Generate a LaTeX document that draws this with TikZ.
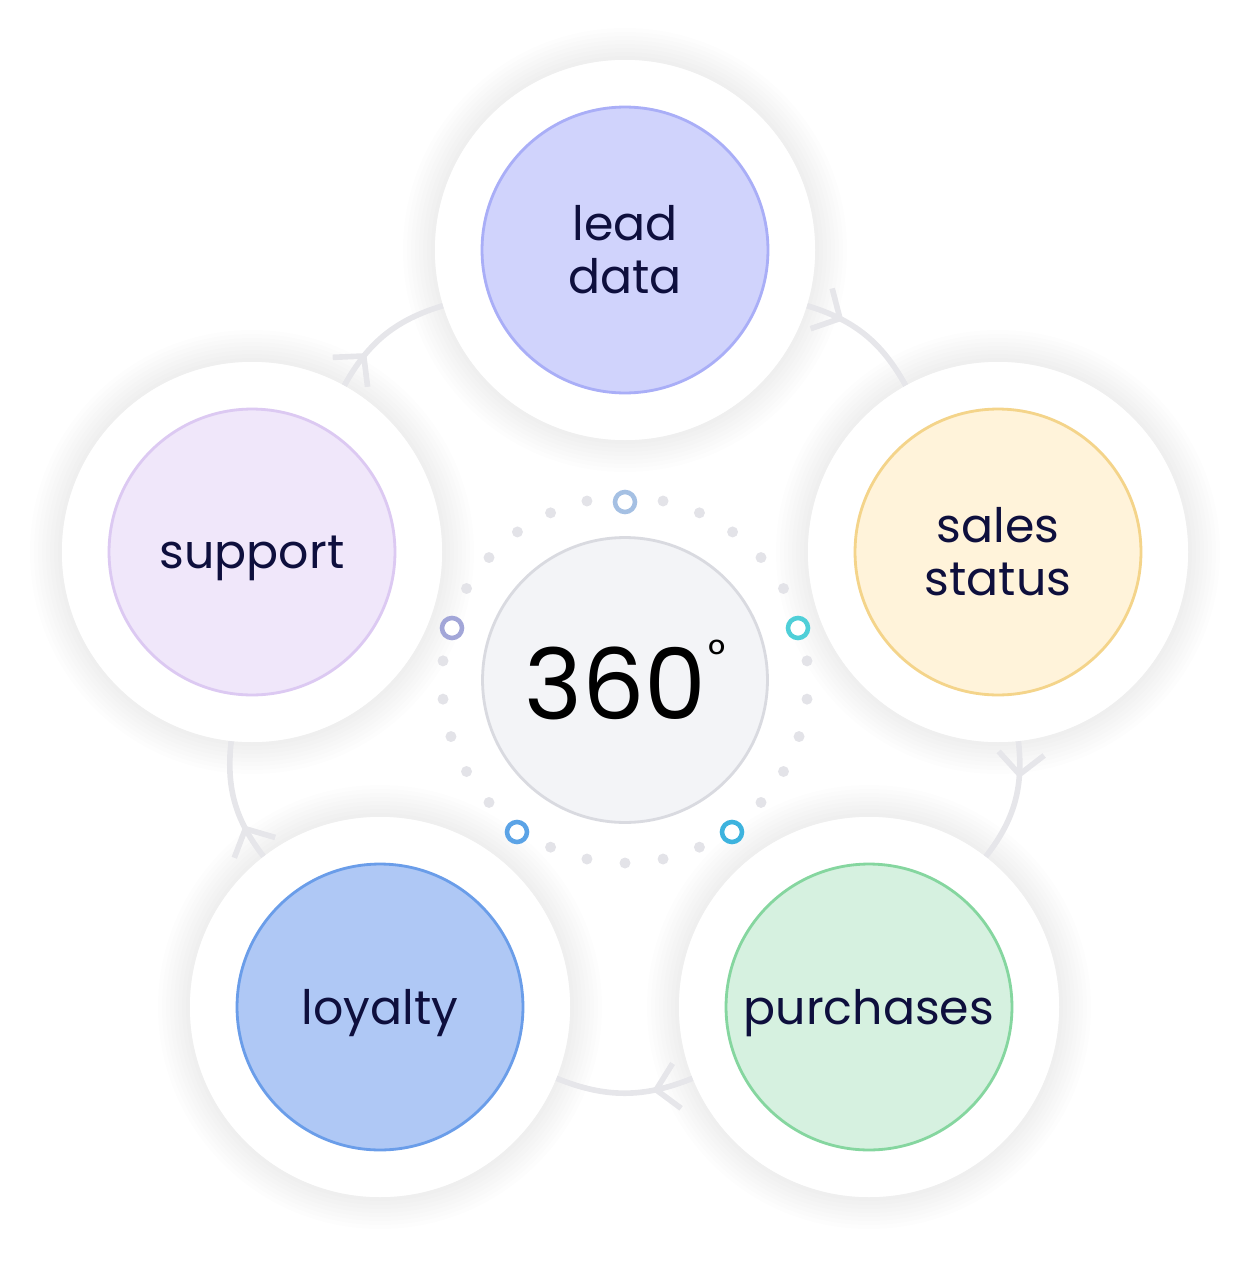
\documentclass[tikz,border=0pt]{standalone}
\usepackage{fontspec}
\setmainfont{Poppins}
\usetikzlibrary{decorations.markings,arrows.meta}
\definecolor{txt}{HTML}{0E0F3D}
\definecolor{arcgray}{HTML}{E6E6EA}
\definecolor{leadfill}{HTML}{D0D3FC}\definecolor{leadline}{HTML}{A9AEF7}
\definecolor{salesfill}{HTML}{FFF3DA}\definecolor{salesline}{HTML}{F4D48A}
\definecolor{purchfill}{HTML}{D6F1E0}\definecolor{purchline}{HTML}{85D69F}
\definecolor{loyalfill}{HTML}{AFC8F5}\definecolor{loyalline}{HTML}{6A9DE9}
\definecolor{suppfill}{HTML}{F0E7FA}\definecolor{suppline}{HTML}{DCC9F2}
\definecolor{hubfill}{HTML}{F3F4F7}\definecolor{hubline}{HTML}{D9DAE0}
\definecolor{dotgray}{HTML}{E3E3E8}
\definecolor{ringa}{HTML}{A5C0E3}\definecolor{ringb}{HTML}{4FCFD8}
\definecolor{ringc}{HTML}{3DB3DE}\definecolor{ringd}{HTML}{5BA3E6}
\definecolor{ringe}{HTML}{A2A6D8}
\tikzset{
  outer/.style={circle, fill=white, minimum size=7.6cm, inner sep=0pt},
  inner/.style={circle, line width=1.6pt, minimum size=5.72cm, inner sep=0pt, align=center, text=txt, font=\fontsize{27}{30}\selectfont},
  flow/.style={arcgray, line width=3.2pt, postaction={decorate}, decoration={markings, mark=at position 0.3 with {\arrow{Straight Barb[length=12pt,width=26pt,line width=3.2pt]}}}},
  ring/.style={circle, line width=2.6pt, minimum size=0.4cm, inner sep=0pt, fill=white}
}
\begin{document}
\begin{tikzpicture}[x=0.02cm,y=-0.02cm]
\useasboundingbox (0,0) rectangle (1251,1261);
% soft halos
\foreach \px/\py in {625/250, 998/552, 869/1007, 380/1007, 252/552}{
  \foreach \r in {222,218,...,192}
    \fill[black, opacity=0.007] (\px,\py) circle[radius=\r];
}
\node[outer] (lo) at (625,250) {};
\node[outer] (so) at (998,552) {};
\node[outer] (po) at (869,1007) {};
\node[outer] (yo) at (380,1007) {};
\node[outer] (uo) at (252,552) {};
% cycle arcs
\draw[flow] (lo) to[bend left=22] (so);
\draw[flow] (so) to[bend left=22] (po);
\draw[flow] (po) to[bend left=22] (yo);
\draw[flow] (yo) to[bend left=22] (uo);
\draw[flow] (uo) to[bend left=22] (lo);
\foreach \px/\py in {625/250, 998/552, 869/1007, 380/1007, 252/552}
  \fill[white] (\px,\py) circle[radius=190];
% topics
\node[inner, fill=leadfill, draw=leadline] (lead) at (625,250) {lead\\data};
\node[inner, fill=salesfill, draw=salesline] (sales) at (998,552) {sales\\status};
\node[inner, fill=purchfill, draw=purchline, text depth=-4pt] (purch) at (869,1007) {purchases};
\node[inner, fill=loyalfill, draw=loyalline, text depth=-4pt] (loyal) at (380,1007) {loyalty};
\node[inner, fill=suppfill, draw=suppline, text depth=-4pt] (supp) at (252,552) {support};
% hub
\foreach \a in {6,18,...,359}
  \fill[dotgray] (625,680) ++(\a:183) circle[radius=5.5];
\node[ring, draw=ringa] (r1) at (625,502) {};
\node[ring, draw=ringb] (r2) at (798,628) {};
\node[ring, draw=ringc] (r3) at (732,832) {};
\node[ring, draw=ringd] (r4) at (517,832) {};
\node[ring, draw=ringe] (r5) at (452,628) {};
\node[circle, minimum size=5.7cm, fill=hubfill, draw=hubline, line width=1.6pt, text=black, font=\fontsize{56}{56}\selectfont] (hub) at (625,680) {360\kern1pt\raisebox{0.5em}{\fontsize{24}{24}\selectfont°}};
\end{tikzpicture}
\end{document}
